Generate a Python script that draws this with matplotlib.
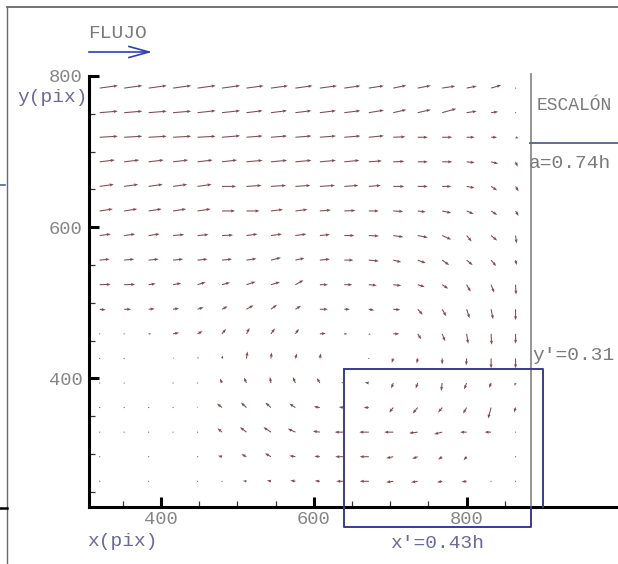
import numpy as np
import matplotlib
matplotlib.use("Agg")
import matplotlib.pyplot as plt
from matplotlib.lines import Line2D

nan = np.nan

# grid positions (pixel coordinates of the PIV grid)
x_grid = [320, 352, 384, 416, 448, 480, 512, 544, 576, 608, 640, 672, 704, 736, 768, 800, 832, 864]
y_grid = [784, 751.5, 719, 686.5, 654, 621.5, 589, 556.5, 524, 491.5, 459, 426.5, 394, 361.5, 329, 296.5, 264]

# horizontal displacement (rows from top to bottom)
u_rows = [
    [18, 18, 18, 18, 18, 18, 17, 17, 17, 17, 16, 15, 13, 13, 13, 10, 10, 0.3],
    [18, 18, 18, 18, 18, 18, 16, 16, 16, 16, 16, 15, 13, 13, 14, 10, 7, 0.3],
    [18, 18, 18, 18, 18, 18, 16, 16, 16, 16, 16, 15, 12, 10, 10, 8, 6, 3],
    [15, 15, 15, 15, 15, 15, 16, 16, 16, 16, 15, 13, 11, 10, 10, 8, 7, 2],
    [14, 14, 14, 14, 14, 14, 15, 15, 15, 15, 14, 12, 11, 10, 9, 8, 6, 3],
    [13, 13, 13, 13, 13, 13, 13, 12, 12, 11, 11, 10, 10, 8, 9, 7, 6, 3],
    [11, 11, 11, 11, 11, 11, 11, 11, 11, 10, 10, 10, 10, 10, 9, 5, 6, 1],
    [10, 10, 10, 10, 10, 10, 10, 10, 9, 10, 9, 10, 8, 8, 7, 6, 5, 1],
    [11, 11, 7, 8, 8, 8, 9, 9, 8, 8, 8, 8, 8, 7, 6, 4, 3, 0.5],
    [6, 7, 6, 6, 6, 5.5, 7, 6, 5.5, 8, 5.5, 5.5, 7, 5, 4, 3, 2, 0],
    [0.3, 0.3, 2.5, 6, 5, 4, 3, 4, 3.5, 6, 3, 2, 6, 3.5, 3, 1.5, 0.5, 0],
    [0.3, 0.3, nan, 1, 1, 1, 1, 0.7, 1.5, 1, nan, 0.3, -1.5, -1, 0, -0.5, 0, 0],
    [0.3, 0.3, nan, 0.3, 0.3, -2, -2.5, -1, -2.5, -3, -3, -4, -2, -2, -1, -2.5, -2, -1],
    [0.3, 0.5, 0.5, 0.3, -1, -5, -5.5, -5.5, -6, -6, -5.5, -5, -4, -5, -4, -3.5, -3, -1.5],
    [0.3, 0.3, 0.4, 0.3, 0.3, -4.5, -6.5, -7.5, -7.5, -7, -9.5, -9.5, -9, -8.5, -8, -6.5, -6.5, 0.3],
    [0.3, nan, 0.4, nan, 0.3, -4, -5, -6, -6, -5.5, -9, -9, -7, -5.5, -4, -3, nan, 0.3],
    [0.3, nan, 0.4, nan, 0.3, 0.3, -3.5, -4, -5, -5, -8, -9, -7, -6.5, -5, -5, 0.3, 0.3],
]

# vertical displacement (rows from top to bottom)
v_rows = [
    [2.5, 2.5, 2.5, 2.5, 2.5, 2.5, 2.3, 2.3, 2.3, 2.3, 2.3, 2.3, 2.7, 2.5, 2, 2, 3, 0],
    [1.5, 1.5, 1.5, 1.5, 2, 2, 2, 2, 2, 2, 2, 2.5, 3, 3, 4, 1.5, 1, 0],
    [1, 1, 1, 1, 1, 1.5, 1.3, 1.3, 1.3, 1.3, 1.3, 1.5, 0.5, 0, 0, 0, 0, -1],
    [1.8, 1.8, 1.8, 1.8, 1.8, 1.8, 1.5, 1.5, 1.5, 1.5, 1.5, 1, 0.5, 0, 0, -0.8, -2, -5],
    [2, 2, 2, 2, 2, 0, 1, 1, 1, 1, 1, 1, 0, 0, 0, -1.5, -4, -5],
    [2, 2, 2, 2, 2, 0, 0, 1.5, 1.5, 1, 0.5, 0, -0.5, -1, -2, -3, -4, -5],
    [1.5, 1.5, 1.5, 1, 1, 0.5, 1.5, 1.5, 1.5, 1, 0, -0.5, -1.5, -2, -4, -6, -5, -8],
    [1, 1, 1, 1, 1, 1, 1.5, 2.5, 2, 1, 0, -1, -2, -3, -5, -5, -6, -5],
    [0.3, 0.3, 1, 1.5, 2.5, 2.2, 3, 2.7, 4.5, 0, 0, -0.7, -1, -2.2, -4, -7, -8, -10],
    [-0.7, 0, 0.5, 1, 2, 3, 4, 4.5, 3.5, 0, 0, -1, -0.5, -5.5, -7, -9, -10, -11],
    [0, 0, 0, 1.2, 2.7, 5, 6, 5.5, 5, 0.5, 0, -1, 0, -5.5, -7.5, -10, -11, -10],
    [0, 0, nan, 1, 1.7, 3, 7, 6, 5, 5, nan, 0, -4.5, -5, -6, -7, -10, -10],
    [0, 0, nan, 0, -0.3, 4.5, 5.5, 6, 6, 5, 0.5, 0.5, -5.5, -5.5, -8, -6.5, -5, -3],
    [0, 0.5, 0.5, 0, 1, 4, 5, 5, 4, 1, 0.5, 0, -5, -6, -5, -6, -11, -5],
    [0, 0, 0.3, 0, 0, 4, 5, 5, 3.5, 1, 0, 0, 0, -1, -2, 0, 0, 0],
    [0.5, nan, 0.7, nan, 0, 1, 2.5, 3.5, 1, 0.5, 0, 0, -1.5, -2, -3, -3.5, nan, 0],
    [1, nan, 0.8, nan, 0, 0, 0.5, 1, 1, 0.5, 0, 0, -1, -1, -1, -0.5, 0, 0],
]

x_major = [400, 600, 800]
x_minor = [350, 450, 500, 550, 650, 700, 750, 850]
y_major = [400, 600, 800]
y_minor = [250, 300, 350, 450, 500, 550, 650, 700, 750]

W_PX, H_PX = 618, 564
FONT = "Liberation Mono"


def fx(x):
    return x / W_PX


def fy(y):
    return 1 - y / H_PX


fig = plt.figure(figsize=(W_PX / 100, H_PX / 100), dpi=100)
fig.patch.set_facecolor("white")

ax = fig.add_axes([fx(89), fy(507), 1 - fx(89), fy(76) - fy(507)])
ax.set_xlim(306, 998)
ax.set_ylim(230, 800)
ax.patch.set_alpha(0)

X, Y = np.meshgrid(x_grid, y_grid)
U = np.array(u_rows, dtype=float)
V = np.array(v_rows, dtype=float)
ax.quiver(X, Y, U, V, pivot="tail", angles="xy", scale_units="xy", scale=0.76,
          color="#7e4c52", width=0.002, headwidth=3.0, headlength=4.0,
          headaxislength=3.5, minlength=1.2, zorder=3)

for s in ["top", "right"]:
    ax.spines[s].set_visible(False)
for s in ["left", "bottom"]:
    ax.spines[s].set_linewidth(2.2)
    ax.spines[s].set_color("black")

ax.set_xticks(x_major)
ax.set_xticks(x_minor, minor=True)
ax.set_yticks(y_major)
ax.set_yticks(y_minor, minor=True)
ax.set_xticklabels([str(t) for t in x_major])
ax.set_yticklabels([str(t) for t in y_major])
ax.tick_params(which="major", direction="in", length=7.5, width=2.2, color="black",
               labelsize=13.5, labelcolor="#858585")
ax.tick_params(which="minor", direction="in", length=4.5, width=0.9, color="#333333")
ax.tick_params(axis="y", which="major", pad=4.5)
ax.tick_params(axis="x", which="major", pad=3)
for lab in ax.get_xticklabels() + ax.get_yticklabels():
    lab.set_fontfamily(FONT)

# step wall (gray vertical) and the measuring boxes
ax.plot([884, 884], [233, 803], color="#8c8c8c", lw=1.3, clip_on=False, zorder=2)
box_col = "#3a3a95"
ax.plot([640, 900, 900], [413, 413, 230], color=box_col, lw=1.4, clip_on=False, zorder=4)
ax.plot([640, 640, 884, 884], [413, 204, 204, 230], color=box_col, lw=1.4,
        clip_on=False, zorder=4)
# step top line
fig.add_artist(Line2D([fx(530), 1], [fy(143), fy(143)], color="#56608c", lw=1.3))

# figure frame remnants
fig.add_artist(Line2D([fx(7), 1], [fy(7), fy(7)], color="#5a5a5a", lw=1.2))
fig.add_artist(Line2D([fx(7), fx(7)], [fy(7), 0], color="#6a6a6a", lw=1.0))
fig.add_artist(Line2D([0, fx(5)], [fy(185), fy(185)], color="#5060a0", lw=1.2))
fig.add_artist(Line2D([0, fx(7)], [fy(508), fy(508)], color="black", lw=1.8))

# FLUJO arrow
arrow_col = "#3040b0"
fig.add_artist(Line2D([fx(89), fx(149)], [fy(52), fy(52)], color=arrow_col, lw=1.2))
fig.add_artist(Line2D([fx(129), fx(149), fx(129)], [fy(46.5), fy(52), fy(57.5)],
                      color=arrow_col, lw=1.2))

txt_gray = "#7a7a7a"
txt_blue = "#6a6a98"
fig.text(fx(88), fy(34), "FLUJO", fontsize=14, family=FONT, color=txt_gray,
         ha="left", va="center")
fig.text(fx(17), fy(97), "y(pix)", fontsize=14, family=FONT, color=txt_blue,
         ha="left", va="center")
fig.text(fx(87), fy(542), "x(pix)", fontsize=14, family=FONT, color=txt_blue,
         ha="left", va="center")
fig.text(fx(537), fy(106), "ESCALÓN", fontsize=13, family=FONT, color=txt_gray,
         ha="left", va="center")
fig.text(fx(529), fy(163), "a=0.74h", fontsize=14, family=FONT, color=txt_gray,
         ha="left", va="center")
fig.text(fx(532), fy(355), "y'=0.31", fontsize=14, family=FONT, color=txt_gray,
         ha="left", va="center")
fig.text(fx(437), fy(543), "x'=0.43h", fontsize=14, family=FONT, color=txt_blue,
         ha="center", va="center")

fig.savefig("out.png", dpi=100, facecolor="white")
